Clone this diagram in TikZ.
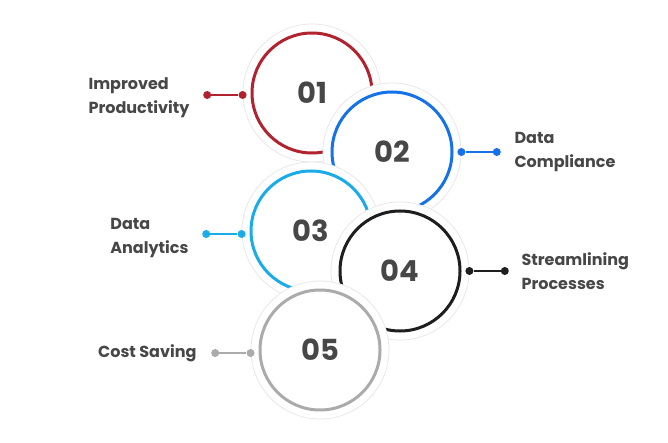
\documentclass[tikz,border=0pt]{standalone}
\usepackage{fontspec}
\setmainfont{Poppins}
\usetikzlibrary{positioning}
\definecolor{ringred}{HTML}{B1232F}
\definecolor{ringblue}{HTML}{1572E8}
\definecolor{ringcyan}{HTML}{1AACE8}
\definecolor{ringblack}{HTML}{1E1E1E}
\definecolor{ringgray}{HTML}{ABABAB}
\definecolor{textgray}{HTML}{474747}

\begin{document}
\begin{tikzpicture}[
  x=1pt, y=-1pt,
  halo/.style={circle, draw=black!9, line width=0.8pt, fill=white, minimum size=138pt, inner sep=0pt},
  ring/.style={circle, draw=#1, line width=3pt, minimum size=120pt, inner sep=0pt, text=textgray, font=\bfseries\fontsize{29}{29}\selectfont},
  dot/.style={circle, fill=#1, minimum size=8pt, inner sep=0pt},
  link/.style={draw=#1, line width=2pt},
  benefit/.style={align=left, text=textgray, font=\bfseries\fontsize{16}{24}\selectfont}
]
  \useasboundingbox[fill=white] (0,0) rectangle (668,443);

  % 01
  \node[halo] (h1) at (312,93) {};
  \node[ring=ringred] (c1) at (h1) {01};
  \node[dot=ringred] (d1b) at ([yshift=-2pt]h1.west) {};
  \node[dot=ringred, left=27pt of d1b] (d1a) {};
  \draw[link=ringred] (d1a) -- (d1b);
  \node[benefit, left=10pt of d1a, yshift=-3pt] (t1) {Improved\\Productivity};

  % 02
  \node[halo] (h2) at (392,152) {};
  \node[ring=ringblue] (c2) at (h2) {02};
  \node[dot=ringblue] (d2a) at (h2.east) {};
  \node[dot=ringblue, right=27pt of d2a] (d2b) {};
  \draw[link=ringblue] (d2a) -- (d2b);
  \node[benefit, right=10pt of d2b] (t2) {Data\\Compliance};

  % 03
  \node[halo] (h3) at (311,231) {};
  \node[ring=ringcyan] (c3) at (h3) {03};
  \node[dot=ringcyan] (d3b) at ([yshift=-3pt]h3.west) {};
  \node[dot=ringcyan, left=27pt of d3b] (d3a) {};
  \draw[link=ringcyan] (d3a) -- (d3b);
  \node[benefit, left=10pt of d3a, yshift=-4pt] (t3) {Data\\Analytics};

  % 04
  \node[halo] (h4) at (400,271) {};
  \node[ring=ringblack] (c4) at (h4) {04};
  \node[dot=ringblack] (d4a) at (h4.east) {};
  \node[dot=ringblack, right=27pt of d4a] (d4b) {};
  \draw[link=ringblack] (d4a) -- (d4b);
  \node[benefit, right=9pt of d4b] (t4) {Streamlining\\Processes};

  % 05
  \node[halo] (h5) at (320,350) {};
  \node[ring=ringgray] (c5) at (h5) {05};
  \node[dot=ringgray] (d5b) at ([yshift=-3pt]h5.west) {};
  \node[dot=ringgray, left=27pt of d5b] (d5a) {};
  \draw[link=ringgray] (d5a) -- (d5b);
  \node[benefit, left=11pt of d5a] (t5) {Cost Saving};
\end{tikzpicture}
\end{document}
